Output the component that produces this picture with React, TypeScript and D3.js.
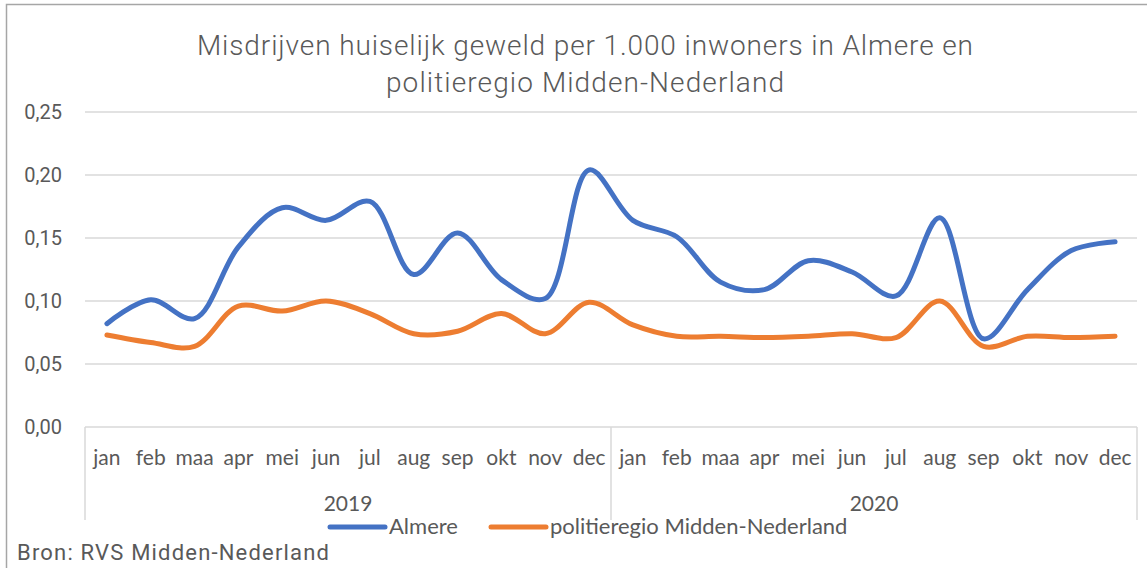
import * as d3 from 'd3';
import React from 'react';

// chart data
const years = ['2019', '2020'];
const months = ['jan', 'feb', 'maa', 'apr', 'mei', 'jun', 'jul', 'aug', 'sep', 'okt', 'nov', 'dec'];
const almere = [
  0.082, 0.101, 0.086, 0.143, 0.174, 0.164, 0.179, 0.121, 0.154, 0.117, 0.102, 0.204,
  0.164, 0.151, 0.115, 0.109, 0.132, 0.123, 0.104, 0.166, 0.070, 0.109, 0.140, 0.147,
];
const regio = [
  0.073, 0.067, 0.064, 0.096, 0.092, 0.100, 0.090, 0.074, 0.076, 0.090, 0.074, 0.099,
  0.081, 0.072, 0.072, 0.071, 0.072, 0.074, 0.071, 0.100, 0.064, 0.072, 0.071, 0.072,
];
const yTicks = [0, 0.05, 0.1, 0.15, 0.2, 0.25];
const seriesNames = ['Almere', 'politieregio Midden-Nederland'];
const titleLines = ['Misdrijven huiselijk geweld per 1.000 inwoners in Almere en', 'politieregio Midden-Nederland'];
const source = 'Bron: RVS Midden-Nederland';

const W = 1147;
const H = 568;
const left = 85;
const right = 1137;
const top = 112;
const bottom = 427;
const axisBottom = 520;
const textColor = '#595959';
const gridColor = '#d9d9d9';
const colors = ['#4472C4', '#ED7D31'];
const dinFont = 'Roboto, "DejaVu Sans", sans-serif';
const labelFont = 'Lato, "Open Sans", sans-serif';

const App = () => {
  const keys = years.flatMap((yr) => months.map((m) => yr + '-' + m));

  const x = d3.scaleBand().domain(keys).range([left, right]);
  const y = d3.scaleLinear().domain([0, 0.25]).range([bottom, top]);
  const cx = (i: number) => (x(keys[i]) as number) + x.bandwidth() / 2;

  const line = d3
    .line<number>()
    .x((d, i) => cx(i))
    .y((d) => y(d))
    .curve(d3.curveCatmullRom.alpha(0.5));

  const yearStart = (k: number) => x(years[k] + '-jan') as number;
  const yearEnd = (k: number) => (x(years[k] + '-dec') as number) + x.bandwidth();

  // legend layout: line start per series
  const legendPos = [330, 491];

  return (
    <svg width={W} height={H} style={{ position: 'absolute', left: 0, top: 0, background: '#fff' }}>
      <rect x={6.5} y={4.5} width={W + 10} height={H + 10} fill="#fff" stroke="#a6a6a6" strokeWidth={1.5} />

      {titleLines.map((t, i) => (
        <text
          key={t}
          x={585}
          y={55 + i * 37}
          textAnchor="middle"
          fontFamily={dinFont}
          fontWeight={300}
          fontSize={28}
          fill={textColor}
          textLength={i === 0 ? 776 : 398}
          lengthAdjust="spacing"
        >
          {t}
        </text>
      ))}

      {/* gridlines + y labels */}
      {yTicks.map((t) => (
        <g key={t}>
          {t > 0 && <line x1={left} x2={right} y1={y(t)} y2={y(t)} stroke={gridColor} strokeWidth={1.5} />}
          <text
            x={62}
            y={y(t)}
            dy="0.35em"
            textAnchor="end"
            fontFamily={dinFont}
            fontSize={20}
            fill={textColor}
          >
            {t.toFixed(2).replace('.', ',')}
          </text>
        </g>
      ))}

      {/* multi-level category axis */}
      <line x1={left} x2={right} y1={bottom} y2={bottom} stroke={gridColor} strokeWidth={1.5} />
      {[left, yearEnd(0), right].map((xx, i) => (
        <line key={i} x1={xx} x2={xx} y1={bottom} y2={axisBottom} stroke={gridColor} strokeWidth={1.5} />
      ))}
      {keys.map((k, i) => (
        <text
          key={k}
          x={cx(i)}
          y={465}
          textAnchor="middle"
          fontFamily={labelFont}
          fontSize={21}
          fill={textColor}
        >
          {months[i % 12]}
        </text>
      ))}
      {years.map((yr, k) => (
        <text
          key={yr}
          x={(yearStart(k) + yearEnd(k)) / 2}
          y={511}
          textAnchor="middle"
          fontFamily={labelFont}
          fontSize={21}
          fill={textColor}
        >
          {yr}
        </text>
      ))}

      {/* series */}
      {[almere, regio].map((s, i) => (
        <path
          key={i}
          d={line(s) as string}
          fill="none"
          stroke={colors[i]}
          strokeWidth={5}
          strokeLinecap="round"
          strokeLinejoin="round"
        />
      ))}

      {/* legend */}
      {seriesNames.map((n, i) => {
        const lx = legendPos[i];
        return (
          <g key={n}>
            <line x1={lx} x2={lx + 55} y1={527} y2={527} stroke={colors[i]} strokeWidth={5} strokeLinecap="round" />
            <text x={lx + 59} y={534} fontFamily={labelFont} fontSize={22} fill={textColor}>
              {n}
            </text>
          </g>
        );
      })}

      <text
        x={17}
        y={560}
        fontFamily={dinFont}
        fontSize={22}
        fill={textColor}
        textLength={312}
        lengthAdjust="spacing"
      >
        {source}
      </text>
    </svg>
  );
};

export default App;
